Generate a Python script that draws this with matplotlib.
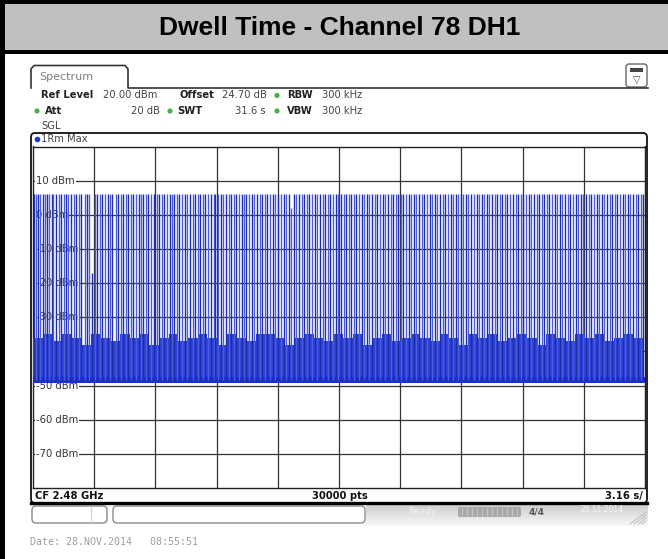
import numpy as np
import matplotlib
matplotlib.use('Agg')
import matplotlib.pyplot as plt
from matplotlib.patches import Rectangle, FancyBboxPatch, Circle

W, H = 668, 559

# ---- chart data ----
title = 'Dwell Time - Channel 78 DH1'
ref_level = 20.0          # dBm, top of grid
bottom_level = -80.0      # dBm, bottom of grid
sweep_time = 31.6         # s  (3.16 s/div)
y_ticks = [10, 0, -10, -20, -30, -40, -50, -60, -70]
y_labels = ['10 dBm', '0 dBm', '-10 dBm', '-20 dBm', '-30 dBm',
            '-40 dBm', '-50 dBm', '-60 dBm', '-70 dBm']

# start of each burst on channel 78 (s)
pulse_times = [
    0.04, 0.16, 0.27, 0.36, 0.50, 0.60, 0.71, 0.85, 0.97, 1.05, 1.20, 1.33, 1.47,
    1.60, 1.72, 1.83, 1.97, 2.12, 2.24, 2.37, 2.50, 2.66, 2.78, 2.91, 3.05,
    3.20, 3.33, 3.46, 3.58, 3.70, 3.86, 3.98, 4.10, 4.26, 4.38, 4.52, 4.63, 4.78,
    4.90, 5.05, 5.16, 5.31, 5.45, 5.56, 5.70, 5.84, 5.96, 6.10, 6.24,
    6.38, 6.50, 6.66, 6.78, 6.92, 7.05, 7.16, 7.30, 7.44, 7.56, 7.71, 7.83, 7.97,
    8.10, 8.25, 8.36, 8.50, 8.64, 8.77, 8.90, 9.05, 9.18, 9.33, 9.42,
    9.55, 9.70, 9.82, 9.96, 10.10, 10.22, 10.37, 10.48, 10.62, 10.77, 10.90, 11.02,
    11.16, 11.30, 11.42, 11.58, 11.70, 11.84, 11.96, 12.10, 12.24, 12.38, 12.50,
    12.66, 12.80, 12.94, 13.06, 13.20, 13.33, 13.47, 13.60, 13.74, 13.88, 14.00,
    14.14, 14.27, 14.42, 14.55, 14.68, 14.82, 14.95, 15.10, 15.22, 15.36, 15.50,
    15.63, 15.76,
    15.90, 16.04, 16.17, 16.30, 16.44, 16.58, 16.70, 16.84, 16.98, 17.10, 17.25,
    17.37, 17.52, 17.64, 17.78, 17.92, 18.05, 18.18, 18.32, 18.46, 18.58, 18.72, 18.86,
    18.99, 19.13, 19.26, 19.40, 19.54, 19.66, 19.80, 19.94, 20.07, 20.20, 20.34,
    20.48, 20.60, 20.75, 20.88, 21.02, 21.15, 21.28, 21.42, 21.56, 21.68, 21.82,
    21.96, 22.08,
    22.22, 22.36, 22.48, 22.62, 22.76, 22.90, 23.02, 23.16, 23.30, 23.43, 23.56,
    23.70, 23.84, 23.97, 24.10, 24.24, 24.37, 24.50, 24.64, 24.78, 24.92, 25.04, 25.18,
    25.32, 25.46, 25.60, 25.72, 25.86, 26.00, 26.13, 26.26, 26.40, 26.54, 26.66,
    26.80, 26.94, 27.08, 27.20, 27.34, 27.48, 27.62, 27.75, 27.88, 28.02, 28.16,
    28.30, 28.42,
    28.56, 28.70, 28.83, 28.96, 29.10, 29.24, 29.37, 29.50, 29.64, 29.78, 29.90,
    30.04, 30.18, 30.31, 30.44, 30.58, 30.72, 30.85, 30.98, 31.12, 31.26, 31.40, 31.52,
]
pulse_peak = 6.0                      # dBm, typical burst level
low_pulse_times = [3.05, 13.33]       # bursts caught lower
low_pulse_levels = [-17.0, 2.0]

# noise band between bursts (top edge, dBm, every 0.5 s)
noise_top = [-36, -35, -37, -35, -36, -38, -35, -36, -37, -35, -36, -35, -38, -36,
             -35, -37, -36, -35, -36, -38, -35, -36, -37, -35, -35, -36, -38, -36,
             -35, -36, -37, -35, -36, -35, -38, -36, -35, -37, -36, -35, -36, -37,
             -35, -36, -38, -35, -36, -35, -37, -36, -35, -36, -38, -35, -36, -37,
             -35, -36, -35, -37, -36, -35, -36, -36]
noise_floor = -48.5

# ---- figure ----
fig = plt.figure(figsize=(W / 100, H / 100), dpi=100)
bg = fig.add_axes([0, 0, 1, 1])
bg.set_xlim(0, W)
bg.set_ylim(H, 0)
bg.axis('off')


def box(x0, y0, x1, y1, **kw):
    bg.add_patch(Rectangle((x0, y0), x1 - x0, y1 - y0, **kw))


# title band
box(0, 0, W, 50, fc='#c0c0c0', ec='none')
box(0, 0, W, 4, fc='black', ec='none')
box(0, 50, W, 54, fc='black', ec='none')
box(0, 0, 5, H, fc='black', ec='none')
bg.text(340, 28, title, ha='center', va='center', fontsize=19,
        fontweight='bold', family='Liberation Sans', color='black')

# spectrum tab
bg.plot([31, 31, 34, 125, 128, 128, 648], [88, 69, 65.5, 65.5, 69, 88, 88],
        color='#333333', lw=1.2)
bg.text(39, 77, 'Spectrum', fontsize=8, color='#808080', va='center')
bg.add_patch(FancyBboxPatch((626, 64), 21, 23, boxstyle='round,pad=0,rounding_size=3',
                            fc='white', ec='#666666', lw=1))
box(630, 68, 643, 72, fc='#444444', ec='none')
bg.text(636.5, 80, '\u25bd', fontsize=7, ha='center', va='center', color='#444444')

# settings block
fs = 7.2
green = '#44b04a'
row1, row2 = 95.5, 111
bg.text(41, row1, 'Ref Level', fontsize=fs, fontweight='bold', va='center', color='#222')
bg.text(103, row1, '20.00 dBm', fontsize=fs, va='center', color='#444')
bg.text(180, row1, 'Offset', fontsize=fs, fontweight='bold', va='center', color='#222')
bg.text(222, row1, '24.70 dB', fontsize=fs, va='center', color='#444')
bg.text(287, row1, 'RBW', fontsize=fs, fontweight='bold', va='center', color='#222')
bg.text(322, row1, '300 kHz', fontsize=fs, va='center', color='#444')
bg.text(45, row2, 'Att', fontsize=fs, fontweight='bold', va='center', color='#222')
bg.text(160, row2, '20 dB', fontsize=fs, va='center', ha='right', color='#444')
bg.text(177, row2, 'SWT', fontsize=fs, fontweight='bold', va='center', color='#222')
bg.text(266, row2, '31.6 s', fontsize=fs, va='center', ha='right', color='#444')
bg.text(287, row2, 'VBW', fontsize=fs, fontweight='bold', va='center', color='#222')
bg.text(322, row2, '300 kHz', fontsize=fs, va='center', color='#444')
for cx, cy in [(277, row1), (37, row2), (170, row2), (277, row2)]:
    bg.add_patch(Circle((cx, cy), 2.6, fc=green, ec='none'))
bg.text(41, 126, 'SGL', fontsize=fs, va='center', color='#444')

# diagram frame
bg.add_patch(FancyBboxPatch((31, 133), 616, 370, boxstyle='round,pad=0,rounding_size=4',
                            fc='white', ec='#111111', lw=1.3))
bg.plot([31, 647], [503, 503], color='black', lw=2.4)
bg.add_patch(Circle((37.5, 139.5), 2.8, fc='#1c3cd0', ec='none'))
bg.text(41, 139.5, '1Rm Max', fontsize=fs, va='center', color='#444')

# bottom info bar
bg.text(35, 496, 'CF 2.48 GHz', fontsize=fs, fontweight='bold', va='center', color='#111')
bg.text(340, 496, '30000 pts', fontsize=fs, fontweight='bold', va='center',
        ha='center', color='#111')
bg.text(643, 496, '3.16 s/', fontsize=fs, fontweight='bold', va='center',
        ha='right', color='#111')

# status bar
bg.add_patch(FancyBboxPatch((32, 506), 75, 17, boxstyle='round,pad=0,rounding_size=4',
                            fc='white', ec='#8a8a8a', lw=1))
bg.plot([91, 91], [507, 522], color='#d8d8d8', lw=1)
bg.add_patch(FancyBboxPatch((113, 506), 252, 17, boxstyle='round,pad=0,rounding_size=4',
                            fc='white', ec='#8a8a8a', lw=1))
grad = np.linspace(0.80, 0.97, 30)[:, None] * np.ones((30, 2))
bg.imshow(grad, extent=(366, 648, 526, 504), cmap='gray', vmin=0, vmax=1,
          aspect='auto', zorder=1)
bg.text(408, 512, 'Ready', fontsize=6.5, color='#f2f2f2', va='center')
bg.add_patch(FancyBboxPatch((458, 507), 63, 10, boxstyle='round,pad=0,rounding_size=2',
                            fc='#a9a9a9', ec='none', zorder=2))
for sx in np.arange(462, 520, 5):
    bg.plot([sx, sx], [508, 516], color='#c4c4c4', lw=0.8, zorder=3)
bg.text(537, 512, '4/4', fontsize=6.5, fontweight='bold', color='#555555',
        va='center', ha='center', zorder=3)
bg.text(602, 510, '28.11.2014', fontsize=5.5, color='#f5f5f5', va='center',
        ha='center', zorder=3)
for k in range(4):
    bg.plot([630 + 4 * k, 646], [524, 512 + 3 * k], color='#bbbbbb', lw=0.7, zorder=3)

bg.text(30, 542, 'Date: 28.NOV.2014   08:55:51', fontsize=7.2, family='DejaVu Sans Mono',
        color='#a0a0a0', va='center')

# ---- trace axes ----
ax = fig.add_axes([33 / W, 1 - 488 / H, 612 / W, (488 - 146.5) / H])
ax.set_xlim(0, sweep_time)
ax.set_ylim(bottom_level, ref_level)
ax.set_xticks([])
ax.set_yticks([])
for sp in ax.spines.values():
    sp.set_color('#222222')
    sp.set_linewidth(1)

for y in y_ticks:
    ax.axhline(y, color='#333333', lw=0.9, zorder=1)
for k in range(1, 10):
    ax.axvline(sweep_time / 10 * k, color='#333333', lw=0.9, zorder=1)
for y, lab in zip(y_ticks, y_labels):
    ax.text(0.16, y, lab, fontsize=fs, va='center', color='#333333', zorder=2,
            bbox=dict(boxstyle='square,pad=0.1', fc='white', ec='none'))

# noise band and floor
noise_t = [0.5 * i for i in range(len(noise_top))]
ax.fill_between(noise_t, noise_floor, noise_top, step='post', color='#2c42dc',
                lw=0, zorder=3)
ax.fill_between([0, sweep_time], noise_floor - 0.8, noise_floor + 1.0,
                color='#1a2fd4', lw=0, zorder=4)

# bursts
peaks = []
for t in pulse_times:
    lvl = pulse_peak
    for lt, ll in zip(low_pulse_times, low_pulse_levels):
        if abs(t - lt) < 0.01:
            lvl = ll
    peaks.append(lvl)
cols = ['#1f2da8' if i % 2 == 0 else '#4a5cdc' for i in range(len(pulse_times))]
ax.vlines(pulse_times, noise_floor, peaks, colors=cols, lw=1.0, zorder=5)

fig.savefig('out.png', dpi=100)
